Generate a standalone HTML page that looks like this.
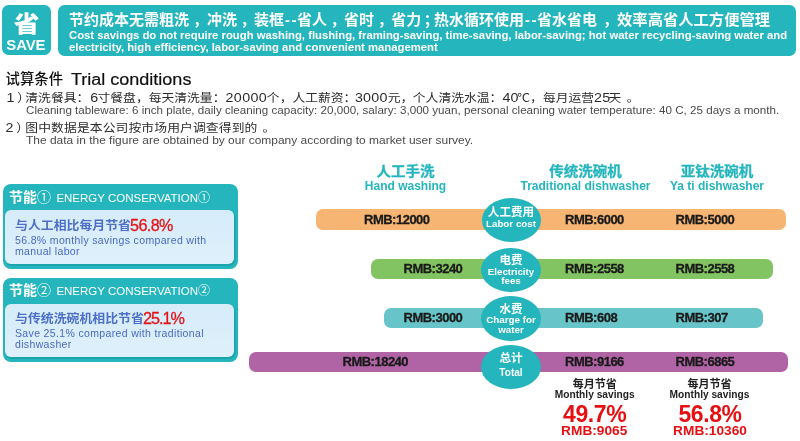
<!DOCTYPE html>
<html lang="zh">
<head>
<meta charset="utf-8">
<title>省 SAVE</title>
<style>
html,body{margin:0;padding:0;}
body{width:800px;height:441px;position:relative;overflow:hidden;background:#fff;
 font-family:"Liberation Sans","Noto Sans CJK SC",sans-serif;}
.a{position:absolute;white-space:nowrap;line-height:1;}
.teal{background:#24b5bd;}
.w{color:#fff;}
.b{font-weight:bold;}
.c{text-align:center;}
.bar{position:absolute;height:20px;border-radius:7px;}
.val{position:absolute;white-space:nowrap;line-height:1;font-weight:bold;font-size:13px;color:#1a1a1a;letter-spacing:-0.5px;-webkit-text-stroke:0.3px #1a1a1a;}
.circ{position:absolute;border-radius:50%;background:#24b5bd;color:#fff;text-align:center;}
.hd{position:absolute;white-space:nowrap;line-height:1;text-align:center;color:#24b5bd;font-weight:bold;}
.n{letter-spacing:0.25px;font-size:14.3px;line-height:1px;}
.en{position:absolute;white-space:nowrap;line-height:1;font-size:10.5px;color:#4a4a4a;transform-origin:0 0;}
.zh{position:absolute;white-space:nowrap;line-height:1;font-size:12.8px;color:#2b2b2b;transform:scaleY(0.92);transform-origin:0 50%;}
.p{margin-left:3.5px;margin-right:-1.5px;}
.d{letter-spacing:1.5px;margin-left:1px;margin-right:-1px;}
.inner{border-radius:6px;background:linear-gradient(180deg,#d6ecf9 0%,#def0fb 100%);box-shadow:1px 1.5px 0 0.5px #1da3ab;}
.red{color:#e3141a;font-size:16.2px;font-weight:normal;letter-spacing:-0.6px;-webkit-text-stroke:0.3px #e3141a;}
</style>
</head>
<body>

<!-- SAVE badge -->
<div class="a teal" style="left:2px;top:5.2px;width:49px;height:50.1px;border-radius:6.5px;"></div>
<div class="a w b c" id="sheng" style="left:1.6px;top:13px;width:49px;font-size:24.5px;font-weight:900;transform:scale(1.05,0.92);">省</div>
<div class="a w b c" id="save" style="left:1.4px;top:38px;width:49px;font-size:14.9px;letter-spacing:-0.1px;">SAVE</div>

<!-- banner -->
<div class="a teal" style="left:57.7px;top:5.2px;width:738.5px;height:51.2px;border-radius:6.5px;"></div>
<div class="a w b" id="bn1" style="left:69px;top:12px;font-size:15px;"><span id="g1">节约成本无需粗洗</span><span class="p" style="margin-left:4px;margin-right:-1px;">，</span><span id="g2">冲洗</span><span class="p">，</span><span id="g3">装框</span><span class="d">--</span><span id="g4">省人</span><span class="p">，</span><span id="g5">省时</span><span class="p">，</span><span id="g6">省力</span><span class="p" id="semi" style="margin-left:2.5px;margin-right:1px;">；</span></div>
<div class="a w b" id="bn1b" style="left:434px;top:12px;font-size:15px;"><span id="g7">热水循环使用</span><span class="d" style="letter-spacing:1.5px;margin-left:1px;">--</span><span id="g8">省水省电</span><span class="p" style="margin-left:6px;margin-right:-1px;">，</span><span id="g9" style="font-size:15.3px;">效率高省人工方便管理</span></div>
<div class="a w b" id="bn2" style="left:69px;top:30px;font-size:11.3px;line-height:11.6px;">Cost savings do not require rough washing, flushing, framing-saving, time-saving, labor-saving; hot water recycling-saving water and<br>electricity, high efficiency, labor-saving and convenient management</div>

<!-- conditions -->
<div class="a" id="t1" style="left:5.5px;top:71.8px;font-size:14.4px;color:#111;font-weight:500;">试算条件</div>
<div class="a" id="t1b" style="left:71px;top:71.6px;font-size:16px;color:#111;-webkit-text-stroke:0.2px #111;transform:scaleX(1.125);transform-origin:0 0;">Trial conditions</div>
<div class="zh" id="l1n" style="left:6.5px;top:91.6px;"><span class="n" style="margin-right:2.5px;">1</span>）</div>
<div class="zh" id="l1" style="left:25.3px;top:91.6px;"><span id="a1">清洗餐具：</span><span class="n" id="n1" style="margin-left:1px;margin-right:-1px;">6</span><span id="a2">寸餐盘，每天清洗量：</span><span class="n" id="n2" style="letter-spacing:0.4px;margin-right:-0.4px;">20000</span><span id="a3">个，人工薪资：</span><span class="n" id="n3" style="margin-left:-1.5px;">3000</span><span id="a4">元</span><span style="margin-right:-0.5px;">，</span><span id="a5">个人清洗水温：</span><span class="n" id="n4" style="margin-right:-1.5px;">40</span><span id="a6">℃，每月运营</span><span class="n" id="n5">25</span><span id="a7" style="margin-left:-2px;">天</span><span id="a8" style="margin-left:5.5px;">。</span></div>
<div class="en" id="e1" style="left:25.5px;top:105.5px;font-size:10px;transform:scaleX(1.162);">Cleaning tableware: 6 inch plate, daily cleaning capacity: 20,000, salary: 3,000 yuan, personal cleaning water temperature: 40 C, 25 days a month.</div>
<div class="zh" id="l2n" style="left:5.5px;top:122px;"><span class="n" style="margin-right:2.5px;">2</span>）</div>
<div class="zh" id="l2" style="left:25.3px;top:122px;"><span style="letter-spacing:0.1px;">图中数据是本公司按市场用户调查得到的</span><span style="margin-left:5px;">。</span></div>
<div class="en" id="e2" style="left:25.5px;top:135.4px;font-size:11.1px;transform:scaleX(1.078);">The data in the figure are obtained by our company according to market user survey.</div>

<!-- left panels -->
<div class="a teal" style="left:2.6px;top:184px;width:235px;height:84.5px;border-radius:8px;"></div>
<div class="a inner" style="left:5.3px;top:210px;width:228.8px;height:54px;"></div>
<div class="a w" id="p1t" style="left:9px;top:189.5px;font-size:14px;"><span class="b">节能</span>① <span style="font-size:11.5px;margin-left:1.5px;">ENERGY CONSERVATION</span><span style="font-size:12px;">①</span></div>
<div class="a" id="p1a" style="left:15px;top:221.4px;font-size:12.9px;font-weight:700;color:#4d6fc8;transform:scaleY(0.93);transform-origin:0 0;">与人工相比每月节省</div>
<div class="a red" id="p1r" style="left:130px;top:216.6px;">56.8%</div>
<div class="a" id="p1b" style="left:15px;top:235px;font-size:10.5px;line-height:10.6px;letter-spacing:0.35px;color:#4a69c4;white-space:normal;width:215px;">56.8% monthly savings compared with manual labor</div>

<div class="a teal" style="left:2.6px;top:277.8px;width:235.2px;height:84.2px;border-radius:8px;"></div>
<div class="a inner" style="left:5.3px;top:303.7px;width:228.8px;height:53.3px;"></div>
<div class="a w" id="p2t" style="left:9px;top:282.5px;font-size:14px;"><span class="b">节能</span>② <span style="font-size:11.5px;margin-left:1.5px;">ENERGY CONSERVATION</span><span style="font-size:12px;">②</span></div>
<div class="a" id="p2a" style="left:15px;top:313.6px;font-size:12.9px;font-weight:700;color:#4d6fc8;transform:scaleY(0.93);transform-origin:0 0;">与传统洗碗机相比节省</div>
<div class="a red" id="p2r" style="left:143px;top:310px;letter-spacing:-1px;">25.1%</div>
<div class="a" id="p2b" style="left:15px;top:328px;font-size:10.5px;line-height:10.6px;letter-spacing:0.35px;color:#4a69c4;white-space:normal;width:215px;">Save 25.1% compared with traditional dishwasher</div>

<!-- column headers -->
<div class="hd" id="h1a" style="left:345.5px;width:120px;top:163.6px;font-size:14.5px;-webkit-text-stroke:0.3px #24b5bd;transform:scaleY(0.93);transform-origin:50% 100%;">人工手洗</div>
<div class="hd" id="h1b" style="left:345.5px;width:120px;top:180px;font-size:12px;">Hand washing</div>
<div class="hd" id="h2a" style="left:505.5px;width:160px;top:163.6px;font-size:14.5px;-webkit-text-stroke:0.3px #24b5bd;transform:scaleY(0.93);transform-origin:50% 100%;">传统洗碗机</div>
<div class="hd" id="h2b" style="left:505.5px;width:160px;top:180px;font-size:12px;">Traditional dishwasher</div>
<div class="hd" id="h3a" style="left:647px;width:140px;top:163.6px;font-size:14.5px;-webkit-text-stroke:0.3px #24b5bd;transform:scaleY(0.93);transform-origin:50% 100%;">亚钛洗碗机</div>
<div class="hd" id="h3b" style="left:647px;width:140px;top:180px;font-size:12px;">Ya ti dishwasher</div>

<!-- bars -->
<div class="bar" style="left:316px;top:209.4px;width:470px;height:20.3px;background:#f6b572;"></div>
<div class="bar" style="left:371.4px;top:259px;width:401.6px;height:20.3px;background:#82c462;"></div>
<div class="bar" style="left:383.8px;top:308.3px;width:379px;height:20px;background:#67c4c8;"></div>
<div class="bar" style="left:248.6px;top:352.2px;width:539.4px;height:20.3px;background:#b064a6;"></div>

<div class="val" id="v11" style="left:364px;top:212.9px;">RMB:12000</div>
<div class="val" id="v12" style="left:565px;top:212.9px;">RMB:6000</div>
<div class="val" id="v13" style="left:675.5px;top:212.9px;">RMB:5000</div>

<div class="val" id="v21" style="left:403.5px;top:261.9px;">RMB:3240</div>
<div class="val" id="v22" style="left:565px;top:261.9px;">RMB:2558</div>
<div class="val" id="v23" style="left:675.5px;top:261.9px;">RMB:2558</div>

<div class="val" id="v31" style="left:403.5px;top:310.9px;">RMB:3000</div>
<div class="val" id="v32" style="left:565px;top:310.9px;">RMB:608</div>
<div class="val" id="v33" style="left:675.5px;top:310.9px;">RMB:307</div>

<div class="val" id="v41" style="left:342.5px;top:355.4px;">RMB:18240</div>
<div class="val" id="v42" style="left:565px;top:355.4px;">RMB:9166</div>
<div class="val" id="v43" style="left:675.5px;top:355.4px;">RMB:6865</div>

<!-- circles -->
<div class="circ" style="left:482.3px;top:198px;width:58.5px;height:43.7px;"></div>
<div class="a w b c" id="c1a" style="left:471px;width:80px;top:206.3px;font-size:11.6px;">人工费用</div>
<div class="a w b c" id="c1b" style="left:471px;width:80px;top:219.2px;font-size:9.8px;">Labor cost</div>

<div class="circ" style="left:481.2px;top:248.3px;width:60.2px;height:44.2px;"></div>
<div class="a w b c" id="c2a" style="left:471px;width:80px;top:253.5px;font-size:11.6px;">电费</div>
<div class="a w b c" id="c2b" style="left:471px;width:80px;top:267px;font-size:9.7px;line-height:9.3px;white-space:normal;">Electricity<br>fees</div>

<div class="circ" style="left:481.3px;top:296.2px;width:60px;height:44.4px;"></div>
<div class="a w b c" id="c3a" style="left:471px;width:80px;top:302.7px;font-size:11.6px;">水费</div>
<div class="a w b c" id="c3b" style="left:471px;width:80px;top:315px;font-size:9.8px;line-height:9.8px;white-space:normal;">Charge for<br>water</div>

<div class="circ" style="left:481.2px;top:344.6px;width:60.2px;height:44.2px;"></div>
<div class="a w b c" id="c4a" style="left:471px;width:80px;top:352.4px;font-size:11.6px;">总计</div>
<div class="a w b c" id="c4b" style="left:471px;width:80px;top:367.8px;font-size:10.1px;">Total</div>

<!-- savings -->
<div class="a b c" id="s1a" style="left:544.7px;width:100px;top:379.2px;font-size:11px;color:#222;">每月节省</div>
<div class="a b c" id="s1b" style="left:544.7px;width:100px;top:389.5px;font-size:10.2px;color:#222;">Monthly savings</div>
<div class="a b c" id="s1c" style="left:544.7px;width:100px;top:402.5px;font-size:23px;letter-spacing:-0.4px;color:#e60f12;">49.7%</div>
<div class="a b c" id="s1d" style="left:544.2px;width:100px;top:424px;font-size:13.7px;color:#e60f12;">RMB:9065</div>

<div class="a b c" id="s2a" style="left:659.5px;width:100px;top:379.2px;font-size:11px;color:#222;">每月节省</div>
<div class="a b c" id="s2b" style="left:659.5px;width:100px;top:389.5px;font-size:10.2px;color:#222;">Monthly savings</div>
<div class="a b c" id="s2c" style="left:660px;width:100px;top:402.5px;font-size:23px;letter-spacing:-0.4px;color:#e60f12;">56.8%</div>
<div class="a b c" id="s2d" style="left:660px;width:100px;top:424px;font-size:13.7px;color:#e60f12;">RMB:10360</div>

</body>
</html>
